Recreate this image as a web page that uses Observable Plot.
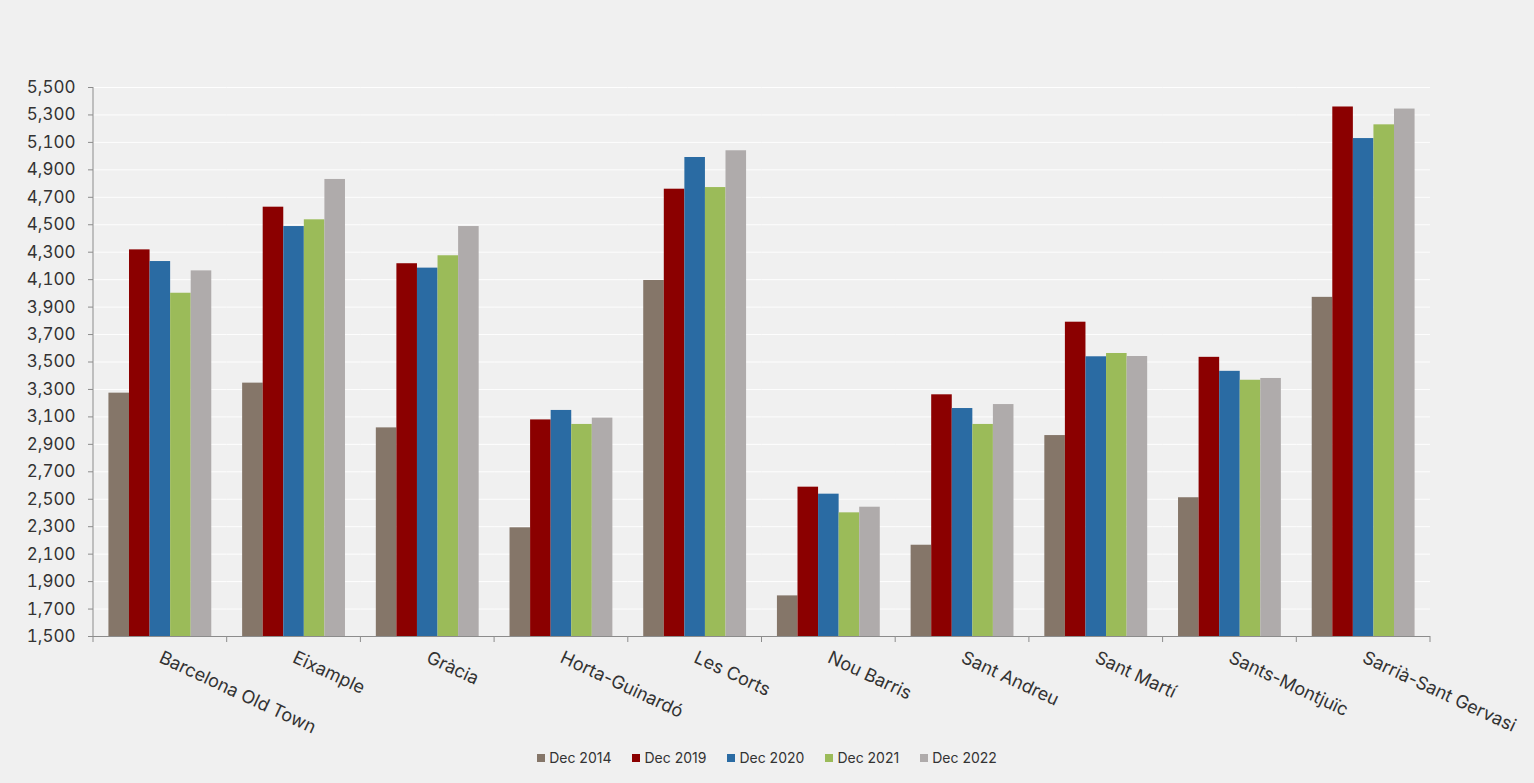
<!DOCTYPE html>
<html>
<head>
<meta charset="utf-8">
<script src="https://cdn.jsdelivr.net/npm/d3@7"></script>
<script src="https://cdn.jsdelivr.net/npm/@observablehq/plot@0.6"></script>
<style>
  html, body { margin: 0; padding: 0; background: #f0f0f0; }
  #chart svg { display: block; }
  #legend { display: flex; justify-content: center; gap: 21px; font-family: Inter, sans-serif; font-size: 14px; color: #333; padding-top: 8px; line-height: 20px; }
  #legend .item { display: flex; align-items: center; }
  #legend .sw { width: 8px; height: 8px; margin-right: 4px; display: inline-block; }
</style>
</head>
<body>
<div id="chart"></div>
<div id="legend"></div>
<script>
const districts = ["Barcelona Old Town", "Eixample", "Gràcia", "Horta-Guinardó", "Les Corts", "Nou Barris", "Sant Andreu", "Sant Martí", "Sants-Montjuïc", "Sarrià-Sant Gervasi"];
const series = ["Dec 2014", "Dec 2019", "Dec 2020", "Dec 2021", "Dec 2022"];
const v2014 = [3273, 3346, 3020, 2292, 4094, 1796, 2165, 2964, 2511, 3971];
const v2019 = [4317, 4628, 4216, 3078, 4759, 2588, 3261, 3790, 3534, 5358];
const v2020 = [4232, 4487, 4184, 3147, 4990, 2537, 3161, 3538, 3432, 5128];
const v2021 = [4001, 4536, 4274, 3045, 4771, 2401, 3045, 3562, 3367, 5228];
const v2022 = [4164, 4830, 4487, 3091, 5039, 2442, 3190, 3540, 3380, 5343];
const colors = ["#857669", "#8b0000", "#2a6ba3", "#9bbb59", "#afabab"];
const yTicks = [1500, 1700, 1900, 2100, 2300, 2500, 2700, 2900, 3100, 3300, 3500, 3700, 3900, 4100, 4300, 4500, 4700, 4900, 5100, 5300, 5500];
const yMin = 1500, yMax = 5500;

const valuesBySeries = [v2014, v2019, v2020, v2021, v2022];
const data = [];
districts.forEach((d, i) => series.forEach((s, j) => data.push({district: d, series: s, value: valuesBySeries[j][i]})));

const fig = Plot.plot({
  width: 1534,
  height: 740,
  marginLeft: 93,
  marginRight: 104,
  marginTop: 87,
  marginBottom: 104,
  style: {background: "#f0f0f0", fontFamily: "Inter, sans-serif", color: "#333"},
  fx: {domain: districts, padding: 0, round: false, label: null},
  x: {domain: series, paddingInner: 0, paddingOuter: 0.75, round: false, axis: null},
  y: {domain: [yMin, yMax], label: null},
  color: {domain: series, range: colors},
  marks: [
    Plot.gridY(yTicks, {stroke: "#ffffff", strokeOpacity: 0.9, strokeWidth: 1}),
    Plot.barY(data, {fx: "district", x: "series", y1: yMin, y2: "value", fill: "series", inset: 0}),
    Plot.ruleY([yMin], {stroke: "#8c8c8c", strokeWidth: 1}),
    Plot.axisY(yTicks, {tickFormat: d3.format(","), tickSize: 5, tickPadding: 13, stroke: "#8c8c8c", fill: "#333", fontSize: 17, label: null}),
    Plot.axisFx({anchor: "bottom", tickRotate: 25, tickSize: 0, tickPadding: 20, fontSize: 18, fill: "#333", label: null})
  ]
});
document.getElementById("chart").appendChild(fig);

// y axis line and category boundary ticks, positioned by the plot's scales
const fxS = fig.scale("fx"), yS = fig.scale("y");
const svg = d3.select(fig);
const y0 = yS.apply(yMin), y1 = yS.apply(yMax);
const x0 = fxS.apply(districts[0]);
svg.append("line").attr("x1", x0).attr("x2", x0).attr("y1", y1).attr("y2", y0).attr("stroke", "#8c8c8c");
const bounds = districts.map(d => fxS.apply(d)).concat([fxS.apply(districts[districts.length - 1]) + fxS.bandwidth]);
bounds.forEach(b => svg.append("line").attr("x1", b).attr("x2", b).attr("y1", y0).attr("y2", y0 + 6).attr("stroke", "#8c8c8c"));

// legend
const lg = d3.select("#legend");
series.forEach((s, i) => {
  const it = lg.append("div").attr("class", "item");
  it.append("span").attr("class", "sw").style("background", colors[i]);
  it.append("span").text(s);
});
</script>
</body>
</html>
